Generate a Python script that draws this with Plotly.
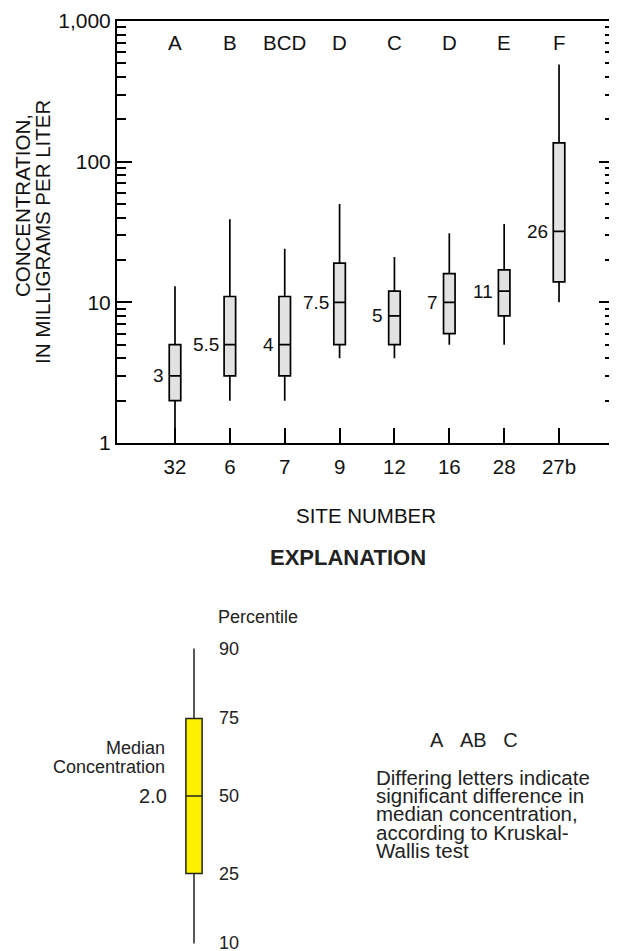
import math
import plotly.graph_objects as go
from statistics import NormalDist

# ---------------- data ----------------
sites = ["32", "6", "7", "9", "12", "16", "28", "27b"]
groups = ["A", "B", "BCD", "D", "C", "D", "E", "F"]
p10 = [1, 2, 2, 4, 4, 5, 5, 10]
p25 = [2, 3, 3, 5, 5, 6, 8, 14]
p50 = [3, 5, 5, 10, 8, 10, 12, 32]
p75 = [5, 11, 11, 19, 12, 16, 17, 136]
p90 = [13, 39, 24, 50, 21, 31, 36, 490]
median_labels = ["3", "5.5", "4", "7.5", "5", "7", "11", "26"]

y_tickvals = [1, 10, 100, 1000]
y_ticktext = ["1", "10", "100", "1,000"]
y_minor = [m * d for d in (1, 10, 100) for m in range(2, 10)]

expl_percentiles = [10, 25, 50, 75, 90]
expl_median_text = "2.0"
expl_paragraph = ["Differing letters indicate", "significant difference in",
                  "median concentration,", "according to Kruskal-", "Wallis test"]

# ---------------- layout helpers ----------------
# the page body has an 8px margin, so the figure is drawn 8px in from the
# top-left corner; positions below are given in window pixels.
OFF = 8
W, H = 617 - OFF, 951 - OFF
FONT = "Liberation Sans, Arial, sans-serif"
RIGHT = 614


def px(x):
    return (x - OFF) / W


def py(y):
    return 1 - (y - OFF) / H


x_idx = list(range(len(sites)))
step = 54.86
x_range = [(117 - 175) / step, (RIGHT - 175) / step]

fig = go.Figure()

fig.add_trace(go.Box(
    x=x_idx, q1=p25, median=p50, q3=p75, lowerfence=p10, upperfence=p90,
    width=0.21, whiskerwidth=0, fillcolor="#e2e2e2",
    line=dict(color="black", width=1.7), boxpoints=False,
    hoverinfo="skip", showlegend=False, xaxis="x", yaxis="y",
))
# carrier for the mirrored right-hand axis
fig.add_trace(go.Scatter(x=[None], y=[None], xaxis="x", yaxis="y3",
                         showlegend=False, hoverinfo="skip"))

# explanation box on a normal-probability (z) scale
nd = NormalDist()
z = {p: nd.inv_cdf(p / 100) for p in expl_percentiles}
fig.add_trace(go.Box(
    x=[0], q1=[z[25]], median=[z[50]], q3=[z[75]],
    lowerfence=[z[10]], upperfence=[z[90]],
    width=0.36, whiskerwidth=0, fillcolor="#fff100",
    line=dict(color="#222222", width=1.5), boxpoints=False,
    hoverinfo="skip", showlegend=False, xaxis="x2", yaxis="y2",
))

TXT = "#111"
annotations = []


def ann(**kw):
    d = dict(showarrow=False, xanchor="center", yanchor="middle")
    d.update(kw)
    annotations.append(d)


# group letters
for i, g in enumerate(groups):
    ann(x=i, y=py(43), xref="x", yref="paper", text=g,
        font=dict(size=20.5, color=TXT))
# median labels
for i, (lab, m) in enumerate(zip(median_labels, p50)):
    ann(x=i, y=math.log10(m), xref="x", yref="y", xanchor="right",
        xshift=-9, text=lab, font=dict(size=19, color=TXT))
# y axis title (two lines)
ann(x=px(22), y=py(206), xref="paper", yref="paper", text="CONCENTRATION,",
    textangle=-90, font=dict(size=20.5, color=TXT))
ann(x=px(43), y=py(232), xref="paper", yref="paper",
    text="IN MILLIGRAMS PER LITER", textangle=-90,
    font=dict(size=20.5, color=TXT))
# x axis title
ann(x=px(366), y=py(515), xref="paper", yref="paper", text="SITE NUMBER",
    font=dict(size=20.5, color=TXT))
ann(x=px(348), y=py(557), xref="paper", yref="paper",
    text="<b>EXPLANATION</b>", font=dict(size=22, color="#222"))
# explanation labels
ann(x=px(216), y=py(617), xref="paper", yref="paper", text="Percentile",
    xanchor="left", font=dict(size=18, color="#222"))
for p in expl_percentiles:
    ann(x=0.5, y=z[p], xref="x2", yref="y2", text=str(p), xanchor="left",
        font=dict(size=18, color="#222"))
ann(x=-0.55, y=z[50], xref="x2", yref="y2", text=expl_median_text,
    xanchor="right", font=dict(size=20, color="#222"))
ann(x=px(167), y=py(748), xref="paper", yref="paper", text="Median",
    xanchor="right", font=dict(size=18, color="#222"))
ann(x=px(167), y=py(767), xref="paper", yref="paper", text="Concentration",
    xanchor="right", font=dict(size=18, color="#222"))
ann(x=px(474), y=py(740), xref="paper", yref="paper",
    text="A&nbsp;&nbsp;&nbsp;AB&nbsp;&nbsp;&nbsp;C",
    font=dict(size=20, color="#222"))
for k, line in enumerate(expl_paragraph):
    ann(x=px(375), y=py(777 + 18.4 * k), xref="paper", yref="paper",
        text=line, xanchor="left", borderpad=0,
        font=dict(size=20.5, color="#222"))

ytick_common = dict(
    type="log", range=[0, 3], tickmode="array", tickvals=y_tickvals,
    ticks="inside", ticklen=15, tickwidth=1.5, tickcolor="black",
    minor=dict(tickmode="array", tickvals=y_minor, ticks="inside",
               ticklen=9, tickwidth=1.5, tickcolor="black", showgrid=False),
    showline=True, linecolor="black", linewidth=2,
    showgrid=False, zeroline=False, automargin=False,
)

fig.update_layout(
    width=W, height=H,
    margin=dict(l=0, r=0, t=0, b=0, autoexpand=False),
    paper_bgcolor="white", plot_bgcolor="white",
    font=dict(family=FONT, color=TXT),
    xaxis=dict(domain=[px(117), px(RIGHT)], range=x_range,
               tickmode="array", tickvals=x_idx, ticktext=sites,
               ticks="inside", ticklen=15, tickwidth=1.5, tickcolor="black",
               showline=True, linecolor="black", linewidth=2, mirror=True,
               showgrid=False, zeroline=False, automargin=False,
               tickfont=dict(size=20.5, color=TXT), ticklabelstandoff=4),
    yaxis=dict(domain=[py(443), py(21)], ticktext=y_ticktext,
               tickfont=dict(size=21, color=TXT), anchor="x", mirror=True,
               **ytick_common),
    yaxis3=dict(overlaying="y", side="right", anchor="x",
                showticklabels=False, **ytick_common),
    xaxis2=dict(domain=[px(149), px(239)], range=[-1, 1], visible=False,
                anchor="y2"),
    yaxis2=dict(domain=[py(951), py(600)],
                range=[-(951 - 796) / 115, (796 - 600) / 115],
                visible=False, anchor="x2"),
    annotations=annotations,
    shapes=[dict(type="line", xref="x domain", yref="y domain",
                 x0=1, x1=1, y0=0, y1=1, layer="above",
                 line=dict(color="black", width=2))],
)

fig.write_html("out.html")
